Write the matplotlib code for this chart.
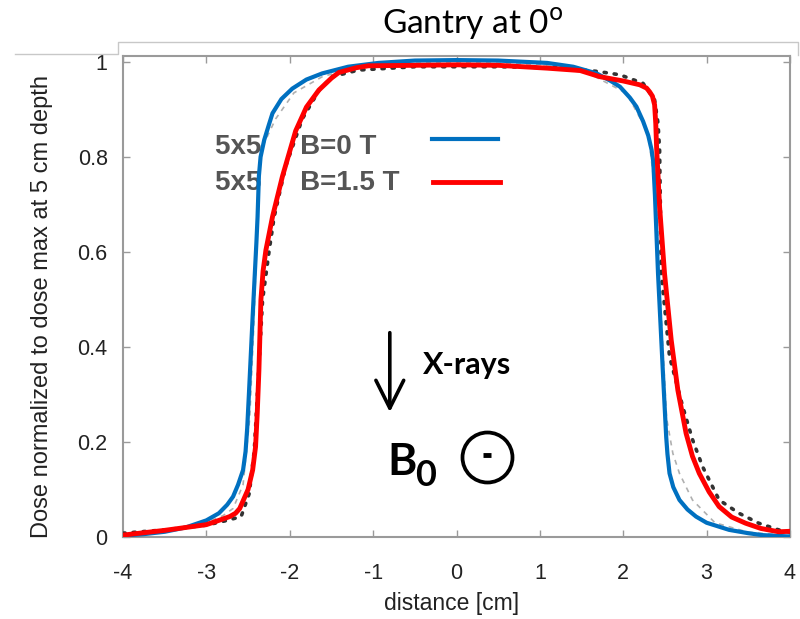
#!/usr/bin/env python3
"""
Lateral dose profiles, 5x5 field, gantry at 0 deg, with and without B field.
"""

import matplotlib
matplotlib.use("Agg")
import matplotlib.pyplot as plt
from matplotlib.lines import Line2D

# B = 0 T profile (blue)
blue_x = [-4.0, -3.75, -3.5, -3.25, -3.0, -2.85, -2.75, -2.68, -2.62, -2.56,
          -2.53, -2.51, -2.49, -2.445, -2.40, -2.386, -2.37, -2.35, -2.306, -2.25,
          -2.207, -2.1, -1.969, -1.8, -1.61, -1.3, -0.937, -0.5, 0.0, 0.5,
          1.087, 1.4, 1.68, 1.85, 1.96, 2.079, 2.158, 2.238, 2.3, 2.34,
          2.36, 2.38, 2.417, 2.476, 2.515, 2.53, 2.555, 2.6, 2.674, 2.77,
          2.873, 3.0, 3.27, 3.5, 3.667, 4.0]
blue_y = [0.003, 0.006, 0.011, 0.02, 0.035, 0.05, 0.068, 0.085, 0.11, 0.141,
          0.18, 0.23, 0.30, 0.464, 0.62, 0.674, 0.76, 0.80, 0.836, 0.868,
          0.892, 0.922, 0.944, 0.963, 0.976, 0.99, 0.998, 1.003, 1.004, 1.003,
          0.998, 0.99, 0.976, 0.96, 0.948, 0.925, 0.906, 0.875, 0.845, 0.815,
          0.79, 0.72, 0.555, 0.345, 0.211, 0.175, 0.134, 0.105, 0.078, 0.058,
          0.043, 0.03, 0.015, 0.008, 0.004, 0.001]

# B = 1.5 T profile (red)
red_x = [-4.0, -3.5, -3.0, -2.85, -2.72, -2.65, -2.6, -2.55, -2.5, -2.445,
         -2.41, -2.39, -2.37, -2.346, -2.32, -2.286, -2.207, -2.088, -1.929, -1.8,
         -1.65, -1.5, -1.41, -1.2, -1.056, -0.5, 0.0, 0.5, 1.087, 1.483,
         1.72, 2.0, 2.198, 2.28, 2.317, 2.35, 2.376, 2.39, 2.40, 2.436,
         2.495, 2.575, 2.655, 2.754, 2.83, 2.912, 3.03, 3.15, 3.3, 3.468,
         3.65, 3.864, 4.0]
red_y = [0.004, 0.014, 0.026, 0.035, 0.043, 0.05, 0.06, 0.08, 0.10, 0.141,
         0.19, 0.26, 0.35, 0.499, 0.56, 0.604, 0.674, 0.759, 0.855, 0.905,
         0.941, 0.966, 0.978, 0.988, 0.992, 0.993, 0.994, 0.993, 0.987, 0.982,
         0.969, 0.96, 0.952, 0.945, 0.937, 0.928, 0.91, 0.87, 0.82, 0.695,
         0.555, 0.415, 0.309, 0.218, 0.17, 0.134, 0.095, 0.064, 0.042, 0.029,
         0.018, 0.011, 0.012]

# reference profile (black dots)
dot_x = [-4.0, -3.5, -3.0, -2.75, -2.583, -2.485, -2.425, -2.326, -2.246, -2.187,
         -2.05, -1.85, -1.65, -1.493, -1.175, -0.5, 0.5, 1.2, 1.70, 1.96,
         2.238, 2.376, 2.417, 2.436, 2.456, 2.555, 2.714, 2.833, 2.952, 3.15,
         3.388, 3.626, 3.864, 4.0]
dot_y = [0.008, 0.015, 0.025, 0.035, 0.043, 0.092, 0.183, 0.499, 0.604, 0.674,
         0.78, 0.88, 0.94, 0.969, 0.983, 0.99, 0.99, 0.988, 0.98, 0.973,
         0.955, 0.92, 0.871, 0.815, 0.555, 0.38, 0.274, 0.204, 0.148, 0.078,
         0.05, 0.029, 0.015, 0.01]

# reference profile (grey dashes)
gray_x = [-4.0, -3.3, -3.0, -2.8, -2.68, -2.56, -2.48, -2.43, -2.39, -2.345,
          -2.17, -1.95, -1.6, -1.0, 0.0, 1.0, 1.6, 2.04, 2.3, 2.40,
          2.46, 2.52, 2.595, 2.674, 2.83, 3.1, 3.5, 4.0]
gray_y = [0.006, 0.018, 0.03, 0.045, 0.06, 0.11, 0.25, 0.45, 0.65, 0.815,
          0.88, 0.935, 0.97, 0.995, 1.0, 0.995, 0.975, 0.934, 0.85, 0.70,
          0.45, 0.25, 0.176, 0.134, 0.078, 0.03, 0.01, 0.003]

x_ticks = [-4, -3, -2, -1, 0, 1, 2, 3, 4]
y_ticks = [0, 0.2, 0.4, 0.6, 0.8, 1]
y_tick_labels = ['0', '0.2', '0.4', '0.6', '0.8', '1']
labels = ['5x5     B=0 T', '5x5     B=1.5 T']

blue = '#0070C0'
red = '#FF0000'
spine_gray = '#9a9a9a'
font = 'Liberation Sans'

fig = plt.figure(figsize=(8, 6.19), dpi=100)
ax = fig.add_axes([123 / 800, 1 - 537 / 619, (790 - 123) / 800, (537 - 56) / 619])

ax.plot(gray_x, gray_y, color='#b0b0b0', lw=1.2, ls=(0, (3, 3)), zorder=2)
ax.plot(dot_x, dot_y, color='#333333', lw=2.6, ls=(0, (0.6, 2.2)),
        dash_capstyle='round', zorder=3)
ax.plot(blue_x, blue_y, color=blue, lw=3.0, zorder=4)
ax.plot(red_x, red_y, color=red, lw=3.5, zorder=5)

ax.set_xlim(-4, 4)
ax.set_ylim(0, 1.0126)
ax.set_xticks(x_ticks)
ax.set_yticks(y_ticks)
ax.set_xticklabels([str(t) for t in x_ticks])
ax.set_yticklabels(y_tick_labels)
ax.tick_params(direction='in', length=5, width=1, color=spine_gray,
               top=True, right=True, labelsize=15.5)
ax.tick_params(axis='x', pad=19)
ax.tick_params(axis='y', pad=11)
for lab in ax.get_xticklabels() + ax.get_yticklabels():
    lab.set_family(font)
    lab.set_color('#222222')
for s in ax.spines.values():
    s.set_color(spine_gray)
    s.set_linewidth(1.5)

ax.set_xlabel('distance [cm]', fontsize=16.5, family=font, color='#222222', va='center')
ax.xaxis.set_label_coords(0.493, -0.139)
ax.set_ylabel('Dose normalized to dose max at 5 cm depth', fontsize=17,
              family=font, color='#222222', va='center')
ax.yaxis.set_label_coords(-0.1207, 0.48)

# legend: grey bold labels, line keys to the right
for lab, y in zip(labels, [0.811, 0.735]):
    ax.text(0.138, y, lab, transform=ax.transAxes, fontsize=20, family=font,
            weight='bold', color='#555555', ha='left', va='center')
ax.add_line(Line2D([0.463, 0.562], [0.827, 0.827], transform=ax.transAxes,
                   color=blue, lw=3.0))
ax.add_line(Line2D([0.465, 0.565], [0.739, 0.739], transform=ax.transAxes,
                   color=red, lw=3.5))

# annotations
ax.annotate('', xy=(-0.80, 0.257), xytext=(-0.80, 0.436),
            arrowprops=dict(arrowstyle='->,head_length=1.0,head_width=0.5',
                            lw=2.6, color='black', mutation_scale=20))
ax.text(-0.40, 0.362, 'X-rays', fontsize=22, family='Lato', weight='bold',
        ha='left', va='center')
ax.text(-0.825, 0.158, 'B', fontsize=32, family='Lato', weight='bold',
        ha='left', va='center')
ax.text(-0.50, 0.13, '0', fontsize=26, family='Lato', weight='bold',
        ha='left', va='center')
ax.plot([0.361], [0.169], marker='o', ms=36, mfc='none', mec='black', mew=2.7,
        clip_on=False)
ax.plot([0.361], [0.173], marker='_', ms=5.5, mew=3.5, color='black', clip_on=False)

# title and the thin frame line above the plot
fig.text(473 / 800, 1 - 24 / 619, 'Gantry at 0$^{\\mathrm{o}}$', fontsize=24,
         family='Lato', ha='center', va='center')
fig.add_artist(Line2D([15 / 800, 118 / 800, 118 / 800, 798 / 800, 798 / 800],
                      [1 - 54 / 619, 1 - 54 / 619, 1 - 42 / 619, 1 - 42 / 619, 1 - 55 / 619],
                      color='#c8c8c8', lw=1.0))

fig.savefig('out.png', dpi=100)
